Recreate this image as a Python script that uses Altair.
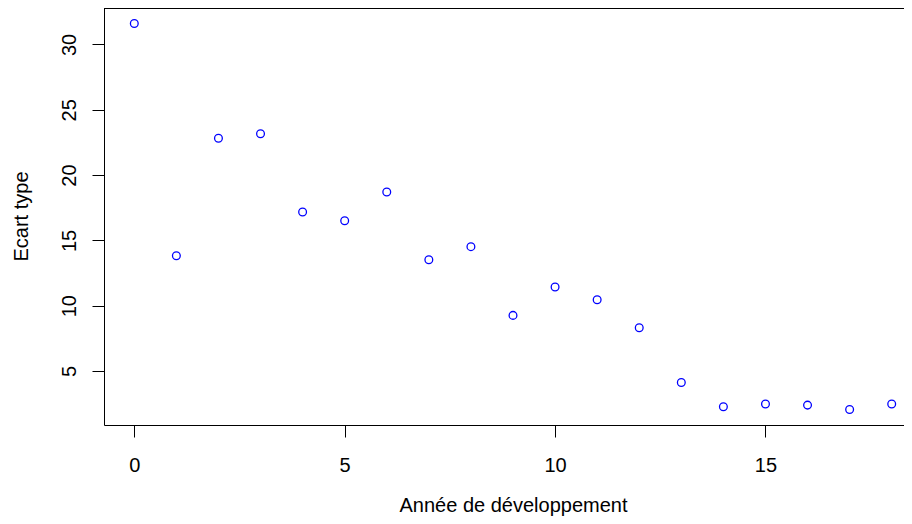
import altair as alt
import pandas as pd

# Data
annees = list(range(19))
ecart_type = [31.61, 13.83, 22.82, 23.16, 17.18, 16.51, 18.71, 13.52, 14.52,
              9.26, 11.43, 10.46, 8.31, 4.12, 2.26, 2.47, 2.39, 2.05, 2.47]
x_ticks = [0, 5, 10, 15]
y_ticks = [5, 10, 15, 20, 25, 30]
x_title = "Année de développement"
y_title = "Ecart type"

df = pd.DataFrame({"annee": annees, "ecart": ecart_type})

FONT = "Liberation Sans"
FS = 20

# R-style 4% axis extension; the original plot region is wider than the window
W_FULL = 818
W = 800
H = 417
xr = max(annees) - min(annees)
xlo = min(annees) - 0.04 * xr
xhi_full = max(annees) + 0.04 * xr
xhi = xlo + (xhi_full - xlo) * W / W_FULL
yr = max(ecart_type) - min(ecart_type)
ylo = min(ecart_type) - 0.04 * yr
yhi = max(ecart_type) + 0.04 * yr

common_axis = dict(
    grid=False,
    domain=True,
    domainColor="black",
    domainWidth=1,
    ticks=True,
    tickColor="black",
    tickWidth=1,
    tickSize=12,
    labelFont=FONT,
    labelFontSize=FS,
    labelColor="black",
    labelFlush=False,
    labelOverlap=False,
    titleFont=FONT,
    titleFontSize=FS,
    titleFontWeight="normal",
    titleColor="black",
)

points = alt.Chart(df).mark_point(
    shape="circle", filled=False, color="#0000FF", size=60, strokeWidth=1.3, opacity=1
).encode(
    x=alt.X(
        "annee:Q",
        scale=alt.Scale(domain=[xlo, xhi], nice=False, zero=False),
        axis=alt.Axis(
            values=x_ticks,
            title=x_title,
            labelBaseline="alphabetic",
            labelPadding=34,
            titleX=409,
            titleY=86,
            titleAlign="center",
            titleBaseline="alphabetic",
            titleAngle=0,
            **common_axis,
        ),
    ),
    y=alt.Y(
        "ecart:Q",
        scale=alt.Scale(domain=[ylo, yhi], nice=False, zero=False),
        axis=alt.Axis(
            values=y_ticks,
            title=y_title,
            labelAngle=270,
            labelAlign="center",
            labelBaseline="alphabetic",
            labelPadding=17,
            titleAngle=270,
            titleX=-77,
            titleY=208,
            titleAlign="center",
            titleBaseline="alphabetic",
            **common_axis,
        ),
    ),
)

top_line = alt.Chart(pd.DataFrame({"a": [0]})).mark_rule(
    color="black", strokeWidth=1
).encode(x=alt.value(0), x2=alt.value(W), y=alt.value(0.5))

chart = alt.layer(points, top_line).properties(
    width=W,
    height=H,
    autosize="none",
    padding={"left": 96, "top": 0, "right": 0, "bottom": 91},
).configure_view(stroke=None)

chart.save("out.html", embed_options={"renderer": "svg", "actions": False})
